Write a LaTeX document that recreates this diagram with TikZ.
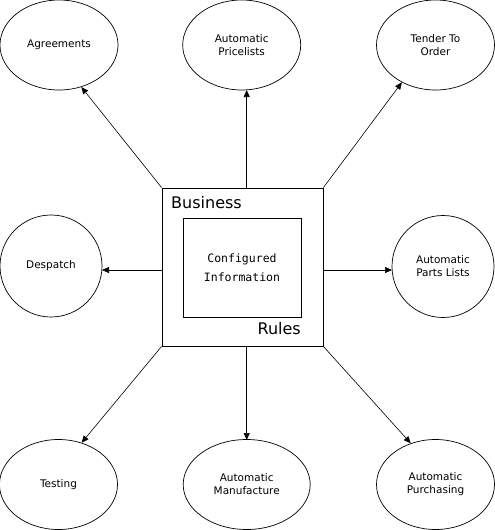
\documentclass[tikz,border=0pt]{standalone}
\usepackage{fontspec}
\setmainfont{DejaVu Sans}
\newfontfamily\monof{DejaVu Sans Mono}
\usetikzlibrary{shapes.geometric,arrows.meta}
\begin{document}
\begin{tikzpicture}[x=1pt,y=-1pt,
  oval/.style={draw,ellipse,line width=0.7pt,inner sep=0pt,minimum width=118pt,minimum height=90pt,align=center,font=\fontsize{10.5}{13}\selectfont},
  roundoval/.style={oval,minimum width=102pt,minimum height=102pt},
  boxo/.style={draw,rectangle,line width=0.8pt,inner sep=0pt},
  conn/.style={line width=0.6pt,-{Triangle[length=7pt,width=6pt]}}]
\useasboundingbox (0,0) rectangle (495,530);
% central boxes
\node[boxo,minimum width=161pt,minimum height=158pt] (outer) at (242.5,267) {};
\node[boxo,minimum width=118pt,minimum height=99pt,align=center,font=\monof\fontsize{11.5}{19}\selectfont] (inner) at (242,267.5) {Configured\\Information};
\node[anchor=base west,inner sep=0pt,font=\fontsize{16}{18}\selectfont] (bus) at (171,208) {Business};
\node[anchor=base east,inner sep=0pt,font=\fontsize{16}{18}\selectfont] (rul) at (301,334) {Rules};
% ovals
\node[oval] (agr) at (59,45) {Agreements};
\node[oval] (pri) at (241.7,45) {Automatic\\Pricelists};
\node[oval] (ten) at (435.5,45) {Tender To\\Order};
\node[roundoval] (des) at (51,266) {Despatch};
\node[roundoval] (par) at (443,266.5) {Automatic\\Parts Lists};
\node[oval] (tes) at (58.5,484.5) {Testing};
\node[oval,minimum width=127pt] (man) at (246.7,484.5) {Automatic\\Manufacture};
\node[oval] (pur) at (435.5,484.5) {Automatic\\Purchasing};
% connector start points
\coordinate (ot) at (246.7,188);
\coordinate (ob) at (246.7,346);
\coordinate (ol) at (162,270);
\coordinate (or) at (323,270);
\coordinate (pt) at (246.7,90);
\coordinate (mt) at (246.7,440);
\coordinate (dr) at (102,270);
\coordinate (pl) at (392,270);
% connectors
\draw[conn] (outer.north west) -- (agr.-62);
\draw[conn] (ot) -- (pt);
\draw[conn] (outer.north east) -- (ten.-132);
\draw[conn] (ol) -- (dr);
\draw[conn] (or) -- (pl);
\draw[conn] (outer.south west) -- (tes.61);
\draw[conn] (ob) -- (mt);
\draw[conn] (outer.south east) -- (pur.121);
\end{tikzpicture}
\end{document}
